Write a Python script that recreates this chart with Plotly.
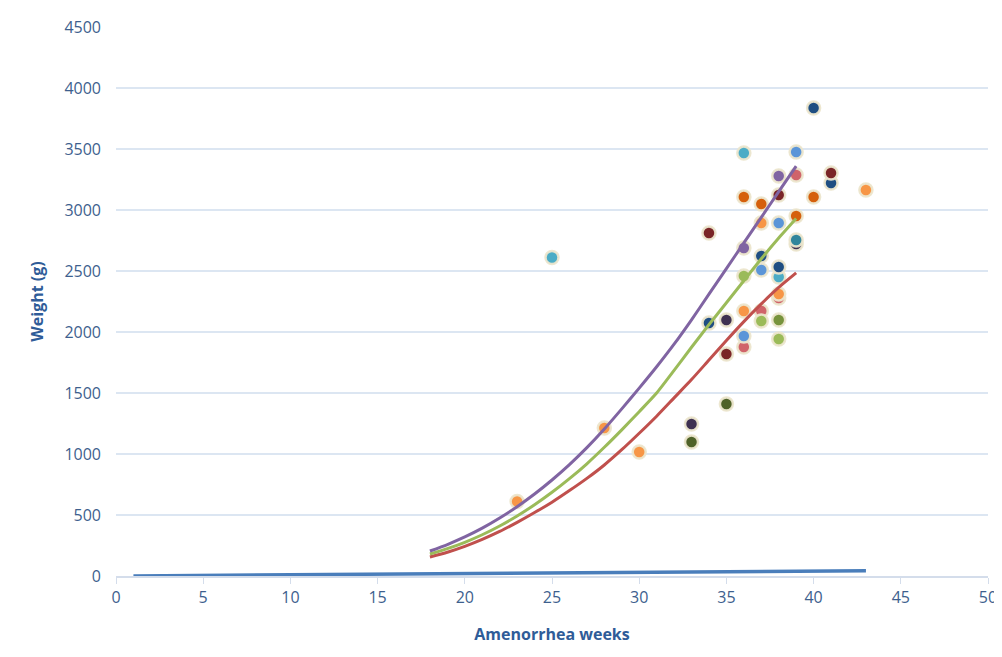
import plotly.graph_objects as go

# ---------------- data ----------------
curve_weeks = [18, 19, 20, 21, 22, 23, 24, 25, 26, 27, 28, 29, 30, 31, 32, 33, 34, 35, 36, 37, 38, 39]
curve_high = [205, 258, 320, 392, 475, 568, 672, 787, 913, 1052, 1205, 1370, 1540, 1715, 1900, 2100, 2310, 2520, 2730, 2940, 3150, 3360]
curve_mid = [180, 224, 276, 338, 410, 492, 584, 686, 798, 920, 1055, 1198, 1347, 1500, 1685, 1875, 2060, 2240, 2420, 2600, 2770, 2930]
curve_low = [156, 195, 243, 300, 365, 440, 520, 605, 700, 800, 910, 1035, 1170, 1310, 1460, 1610, 1770, 1930, 2085, 2230, 2365, 2484]

base_weeks = [1, 10, 20, 30, 43]
base_values = [1, 10, 20, 30, 43]

pink_weeks = [36, 37, 38, 39]
pink_weights = [1877, 2172, 2279, 3287]
cyan_weeks = [25, 36, 38]
cyan_weights = [2610, 3467, 2451]
darkpurple_weeks = [33, 35, 39]
darkpurple_weights = [1246, 2098, 2722]
darkblue_weeks = [34, 37, 38, 40, 41]
darkblue_weights = [2074, 2623, 2533, 3836, 3221]
darkred_weeks = [34, 35, 38, 41]
darkred_weights = [2811, 1820, 3123, 3303]
teal_weeks = [39]
teal_weights = [2754]
orange_weeks = [23, 28, 30, 36, 37, 38, 43]
orange_weights = [610, 1213, 1016, 2172, 2893, 2311, 3164]
lightgreen_weeks = [36, 37, 38]
lightgreen_weights = [2459, 2090, 1943]
darkorange_weeks = [36, 37, 39, 40]
darkorange_weights = [3107, 3049, 2951, 3107]
darkgreen_weeks = [33, 35]
darkgreen_weights = [1098, 1410]
green_weeks = [38]
green_weights = [2098]
purple_weeks = [36, 38]
purple_weights = [2689, 3279]
blue_weeks = [36, 37, 38, 39]
blue_weights = [1967, 2508, 2893, 3475]

x_ticks = [0, 5, 10, 15, 20, 25, 30, 35, 40, 45, 50]
y_ticks = [0, 500, 1000, 1500, 2000, 2500, 3000, 3500, 4000, 4500]

# ---------------- styling ----------------
groups = [
    (pink_weeks, pink_weights, "#D0646A"),
    (cyan_weeks, cyan_weights, "#4BACC6"),
    (darkpurple_weeks, darkpurple_weights, "#3F3151"),
    (darkblue_weeks, darkblue_weights, "#1F4E82"),
    (darkred_weeks, darkred_weights, "#7A2527"),
    (teal_weeks, teal_weights, "#31859C"),
    (orange_weeks, orange_weights, "#F79646"),
    (lightgreen_weeks, lightgreen_weights, "#9BBB59"),
    (darkorange_weeks, darkorange_weights, "#D5600C"),
    (darkgreen_weeks, darkgreen_weights, "#4F6228"),
    (green_weeks, green_weights, "#77933C"),
    (purple_weeks, purple_weights, "#8064A2"),
    (blue_weeks, blue_weights, "#5B95D8"),
]

fig = go.Figure()
for wx, wy, col in groups:
    fig.add_trace(go.Scatter(
        x=wx, y=wy, mode="markers",
        marker=dict(size=13, color=col, line=dict(color="rgba(236,230,205,0.95)", width=2.5)),
        showlegend=False, hoverinfo="x+y"))

fig.add_trace(go.Scatter(x=base_weeks, y=base_values, mode="lines",
                         line=dict(color="#4A7EBB", width=3.5), showlegend=False))
fig.add_trace(go.Scatter(x=curve_weeks, y=curve_low, mode="lines", line_shape="spline",
                         line=dict(color="#C0504D", width=3, smoothing=0.6), showlegend=False))
fig.add_trace(go.Scatter(x=curve_weeks, y=curve_mid, mode="lines", line_shape="spline",
                         line=dict(color="#9BBB59", width=3, smoothing=0.6), showlegend=False))
fig.add_trace(go.Scatter(x=curve_weeks, y=curve_high, mode="lines", line_shape="spline",
                         line=dict(color="#8064A2", width=3, smoothing=0.6), showlegend=False))

tick_font = dict(family="Open Sans, Liberation Sans, sans-serif", size=16, color="#3E5F8E")
title_font = dict(family="Open Sans, Liberation Sans, sans-serif", size=16, color="#2F5C98")

fig.update_layout(
    width=994, height=641,
    margin=dict(l=108, r=14, t=19, b=73, autoexpand=False),
    paper_bgcolor="white", plot_bgcolor="white",
    xaxis=dict(range=[0, 50], tickvals=x_ticks, showgrid=False, zeroline=False,
               showline=True, linecolor="#D4DDEB", linewidth=1.5,
               ticks="outside", ticklen=6, tickcolor="#D4DDEB",
               tickfont=tick_font, ticklabeloverflow="allow", automargin=False,
               title=dict(text="<b>Amenorrhea weeks</b>", font=title_font, standoff=22)),
    yaxis=dict(range=[0, 4500], tickvals=y_ticks, showgrid=True, gridcolor="#DCE6F2",
               gridwidth=1.5, zeroline=False, showline=False, ticks="", ticklabelstandoff=14,
               tickfont=tick_font, automargin=False,
               title=dict(text="<b>Weight (g)</b>", font=title_font, standoff=16)),
)

fig.write_html("out.html")
